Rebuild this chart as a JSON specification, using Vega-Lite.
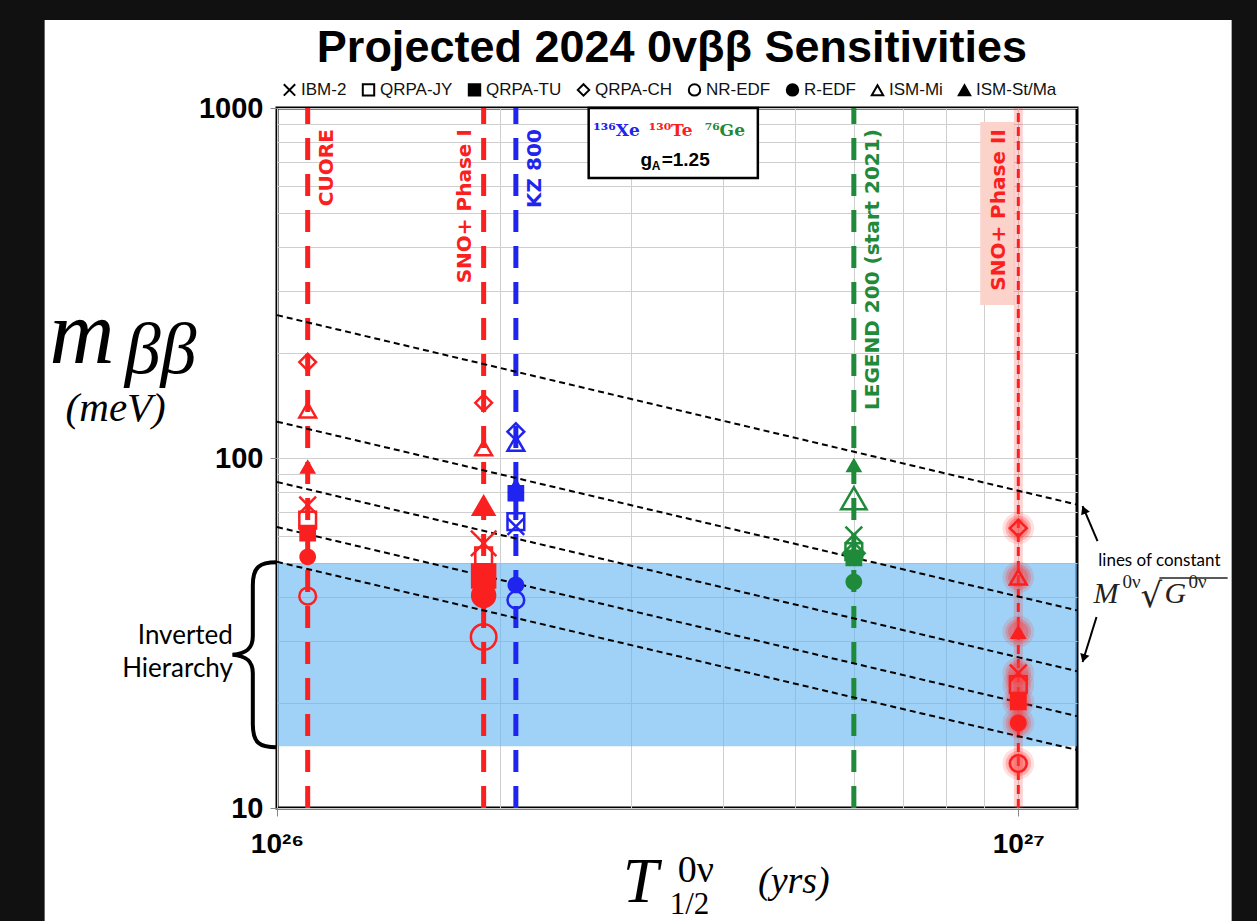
{
  "$schema": "https://vega.github.io/schema/vega-lite/v6.json",
  "width": 800,
  "height": 700,
  "autosize": {"type": "none"},
  "padding": {"left": 277, "top": 108, "right": 180, "bottom": 113},
  "background": "white",
  "title": {"text": "Projected 2024 0vββ Sensitivities", "font": "Liberation Sans", "fontSize": 45, "fontWeight": "bold", "color": "black", "anchor": "middle", "baseline": "alphabetic", "offset": -107, "dx": -5},
  "config": {
    "view": {"stroke": "black", "strokeWidth": 3},
    "text": {"color": "black"}
  },
  "datasets": {
    "points": [
      {"exp": "CUORE", "T": 1.1e26, "iso": "Te", "model": "QRPA-CH", "m": 188, "emph": "normal"},
      {"exp": "CUORE", "T": 1.1e26, "iso": "Te", "model": "ISM-Mi", "m": 137, "emph": "normal"},
      {"exp": "CUORE", "T": 1.1e26, "iso": "Te", "model": "ISM-St/Ma", "m": 94.5, "emph": "normal"},
      {"exp": "CUORE", "T": 1.1e26, "iso": "Te", "model": "IBM-2", "m": 73.4, "emph": "normal"},
      {"exp": "CUORE", "T": 1.1e26, "iso": "Te", "model": "QRPA-JY", "m": 66.5, "emph": "normal"},
      {"exp": "CUORE", "T": 1.1e26, "iso": "Te", "model": "QRPA-TU", "m": 61, "emph": "normal"},
      {"exp": "CUORE", "T": 1.1e26, "iso": "Te", "model": "R-EDF", "m": 52.2, "emph": "normal"},
      {"exp": "CUORE", "T": 1.1e26, "iso": "Te", "model": "NR-EDF", "m": 40.3, "emph": "normal"},
      {"exp": "SNO+ Phase I", "T": 1.9e26, "iso": "Te", "model": "QRPA-CH", "m": 143.8, "emph": "normal"},
      {"exp": "SNO+ Phase I", "T": 1.9e26, "iso": "Te", "model": "ISM-Mi", "m": 106.8, "emph": "normal"},
      {"exp": "SNO+ Phase I", "T": 1.9e26, "iso": "Te", "model": "ISM-St/Ma", "m": 73.4, "emph": "large"},
      {"exp": "SNO+ Phase I", "T": 1.9e26, "iso": "Te", "model": "IBM-2", "m": 57, "emph": "large"},
      {"exp": "SNO+ Phase I", "T": 1.9e26, "iso": "Te", "model": "QRPA-JY", "m": 52.5, "emph": "normal"},
      {"exp": "SNO+ Phase I", "T": 1.9e26, "iso": "Te", "model": "QRPA-TU", "m": 46, "emph": "large"},
      {"exp": "SNO+ Phase I", "T": 1.9e26, "iso": "Te", "model": "R-EDF", "m": 40.5, "emph": "large"},
      {"exp": "SNO+ Phase I", "T": 1.9e26, "iso": "Te", "model": "NR-EDF", "m": 30.8, "emph": "large"},
      {"exp": "KZ 800", "T": 2.1e26, "iso": "Xe", "model": "QRPA-CH", "m": 118.9, "emph": "normal"},
      {"exp": "KZ 800", "T": 2.1e26, "iso": "Xe", "model": "ISM-Mi", "m": 110, "emph": "normal"},
      {"exp": "KZ 800", "T": 2.1e26, "iso": "Xe", "model": "ISM-St/Ma", "m": 83.7, "emph": "normal"},
      {"exp": "KZ 800", "T": 2.1e26, "iso": "Xe", "model": "QRPA-TU", "m": 79.3, "emph": "normal"},
      {"exp": "KZ 800", "T": 2.1e26, "iso": "Xe", "model": "QRPA-JY", "m": 65.8, "emph": "normal"},
      {"exp": "KZ 800", "T": 2.1e26, "iso": "Xe", "model": "IBM-2", "m": 63.7, "emph": "normal"},
      {"exp": "KZ 800", "T": 2.1e26, "iso": "Xe", "model": "R-EDF", "m": 43.4, "emph": "normal"},
      {"exp": "KZ 800", "T": 2.1e26, "iso": "Xe", "model": "NR-EDF", "m": 39.3, "emph": "normal"},
      {"exp": "LEGEND 200", "T": 6e26, "iso": "Ge", "model": "ISM-St/Ma", "m": 95.5, "emph": "normal"},
      {"exp": "LEGEND 200", "T": 6e26, "iso": "Ge", "model": "ISM-Mi", "m": 76.7, "emph": "large"},
      {"exp": "LEGEND 200", "T": 6e26, "iso": "Ge", "model": "IBM-2", "m": 60.3, "emph": "normal"},
      {"exp": "LEGEND 200", "T": 6e26, "iso": "Ge", "model": "QRPA-CH", "m": 53.4, "emph": "medium"},
      {"exp": "LEGEND 200", "T": 6e26, "iso": "Ge", "model": "QRPA-JY", "m": 54, "emph": "normal"},
      {"exp": "LEGEND 200", "T": 6e26, "iso": "Ge", "model": "QRPA-TU", "m": 51.8, "emph": "normal"},
      {"exp": "LEGEND 200", "T": 6e26, "iso": "Ge", "model": "R-EDF", "m": 44.3, "emph": "normal"},
      {"exp": "SNO+ Phase II", "T": 1e27, "iso": "Te", "model": "QRPA-CH", "m": 63, "emph": "normal"},
      {"exp": "SNO+ Phase II", "T": 1e27, "iso": "Te", "model": "ISM-Mi", "m": 45.6, "emph": "normal"},
      {"exp": "SNO+ Phase II", "T": 1e27, "iso": "Te", "model": "ISM-St/Ma", "m": 31.9, "emph": "normal"},
      {"exp": "SNO+ Phase II", "T": 1e27, "iso": "Te", "model": "IBM-2", "m": 24.3, "emph": "normal"},
      {"exp": "SNO+ Phase II", "T": 1e27, "iso": "Te", "model": "QRPA-JY", "m": 22.5, "emph": "normal"},
      {"exp": "SNO+ Phase II", "T": 1e27, "iso": "Te", "model": "QRPA-TU", "m": 20.1, "emph": "normal"},
      {"exp": "SNO+ Phase II", "T": 1e27, "iso": "Te", "model": "R-EDF", "m": 17.5, "emph": "normal"},
      {"exp": "SNO+ Phase II", "T": 1e27, "iso": "Te", "model": "NR-EDF", "m": 13.4, "emph": "normal"}
    ],
    "exps": [
      {"exp": "CUORE", "label": "CUORE", "T": 1.1e26, "iso": "Te"},
      {"exp": "SNO+ Phase I", "label": "SNO+ Phase I", "T": 1.9e26, "iso": "Te"},
      {"exp": "KZ 800", "label": "KZ 800", "T": 2.1e26, "iso": "Xe"},
      {"exp": "LEGEND 200", "label": "LEGEND 200 (start 2021)", "T": 6e26, "iso": "Ge"},
      {"exp": "SNO+ Phase II", "label": "SNO+ Phase II", "T": 1e27, "iso": "Te"}
    ],
    "diag": [
      {"line": 1, "T": 1e26, "m": 256}, {"line": 1, "T": 1.2e27, "m": 73.6},
      {"line": 2, "T": 1e26, "m": 127}, {"line": 2, "T": 1.2e27, "m": 36.7},
      {"line": 3, "T": 1e26, "m": 85.4}, {"line": 3, "T": 1.2e27, "m": 24.6},
      {"line": 4, "T": 1e26, "m": 63.5}, {"line": 4, "T": 1.2e27, "m": 18.3},
      {"line": 5, "T": 1e26, "m": 50.5}, {"line": 5, "T": 1.2e27, "m": 14.65}
    ],
    "frame": [
      {"T": 3.846e25, "T2": 4.859e25, "m": 3.93, "m2": 2035},
      {"T": 1.94e27, "T2": 2.338e27, "m": 3.93, "m2": 2035},
      {"T": 3.846e25, "T2": 2.338e27, "m": 1784, "m2": 2035}
    ],
    "band": [{"T": 1e26, "T2": 1.2e27, "m": 15, "m2": 50}],
    "isobox": [{"T": 2.633e26, "T2": 4.453e26, "m": 631, "m2": 1000}],
    "pinkbox": [{"T": 8.885e26, "T2": 9.876e26, "m": 273.6, "m2": 912}],
    "arrows": [
      {"arrow": "up", "T": 1.279e27, "T2": 1.221e27, "m": 57.9, "m2": 72.9},
      {"arrow": "down", "T": 1.275e27, "T2": 1.221e27, "m": 35.13, "m2": 26.13}
    ],
    "heads": [
      {"arrow": "up", "T": 1.226e27, "m": 71.15},
      {"arrow": "down", "T": 1.225e27, "m": 26.79}
    ],
    "overline": [{"T": 1.55e27, "T2": 1.916e27, "m": 45.4}],
    "annot": [
      {"style": "ym", "text": "m", "T": 4.934e25, "m": 186.8},
      {"style": "ybb", "text": "ββ", "T": 6.232e25, "m": 175},
      {"style": "ymev", "text": "(meV)", "T": 6.059e25, "m": 127.6},
      {"style": "xT", "text": "T", "T": 2.926e26, "m": 5.386},
      {"style": "xsup", "text": "0ν", "T": 3.472e26, "m": 6.146},
      {"style": "xsub", "text": "1/2", "T": 3.386e26, "m": 4.98},
      {"style": "xyrs", "text": "(yrs)", "T": 4.98e26, "m": 5.716},
      {"style": "loc", "text": "lines of constant", "T": 1.55e27, "m": 49.14},
      {"style": "MG", "text": "M", "T": 1.263e27, "m": 38.52},
      {"style": "MG", "text": "G", "T": 1.575e27, "m": 38.52},
      {"style": "MGsup", "text": "0ν", "T": 1.382e27, "m": 42.52},
      {"style": "MGsup", "text": "0ν", "T": 1.697e27, "m": 42.52},
      {"style": "sqrt", "text": "√", "T": 1.462e27, "m": 37.52},
      {"style": "IH", "text": "Inverted", "T": 8.72e25, "m": 29.4},
      {"style": "IH", "text": "Hierarchy", "T": 8.72e25, "m": 23.67},
      {"style": "iso", "text": "¹³⁶Xe", "iso": "Xe", "T": 2.871e26, "m": 831.8},
      {"style": "iso", "text": "¹³⁰Te", "iso": "Te", "T": 3.397e26, "m": 831.8},
      {"style": "iso", "text": "⁷⁶Ge", "iso": "Ge", "T": 4.019e26, "m": 831.8},
      {"style": "ga", "text": "g", "T": 3.094e26, "m": 683},
      {"style": "ga", "text": "=1.25", "T": 3.303e26, "m": 683},
      {"style": "gasub", "text": "A", "T": 3.202e26, "m": 667}
    ],
    "brace": [{"T": 9.33e25, "m": 27.4}]
  },
  "layer": [
    {
      "data": {"name": "band"},
      "mark": {"type": "rect", "color": "#5fb4f0", "opacity": 0.6},
      "encoding": {
        "x": {
          "field": "T", "type": "quantitative",
          "scale": {"type": "log", "domain": [1e26, 1.2e27], "nice": false},
          "axis": {
            "title": null,
            "values": [1e26, 2e26, 3e26, 4e26, 5e26, 6e26, 7e26, 8e26, 9e26, 1e27],
            "grid": true, "gridColor": "#cfcfcf", "gridWidth": 1,
            "domain": false,
            "tickColor": "#888888", "tickSize": 8, "tickWidth": 1,
            "tickOpacity": {"condition": {"test": "datum.value < 1.05e26 || datum.value > 9.5e26", "value": 1}, "value": 0},
            "labelExpr": "datum.value < 1.05e26 ? '10²⁶' : (datum.value > 9.5e26 ? '10²⁷' : '')",
            "labelFont": "Liberation Sans", "labelFontSize": 28, "labelFontWeight": "bold", "labelColor": "black",
            "labelPadding": 14, "labelOverlap": false, "labelFlush": false
          }
        },
        "y": {
          "field": "m", "type": "quantitative",
          "scale": {"type": "log", "domain": [10, 1000], "nice": false},
          "axis": {
            "title": null,
            "values": [10, 20, 30, 40, 50, 60, 70, 80, 90, 100, 200, 300, 400, 500, 600, 700, 800, 900, 1000],
            "grid": true, "gridColor": "#cfcfcf", "gridWidth": 1,
            "domain": false,
            "tickColor": "#888888", "tickSize": 7, "tickWidth": 1,
            "tickOpacity": {"condition": {"test": "datum.value == 10 || datum.value == 100 || datum.value == 1000", "value": 1}, "value": 0},
            "labelExpr": "(datum.value == 10 || datum.value == 100 || datum.value == 1000) ? ('' + datum.value) : ''",
            "labelFont": "Liberation Sans", "labelFontSize": 29, "labelFontWeight": "bold", "labelColor": "black",
            "labelPadding": 7, "labelOverlap": false, "labelFlush": false
          }
        },
        "x2": {"field": "T2"}, "y2": {"field": "m2"}
      }
    },
    {
      "data": {"name": "isobox"},
      "mark": {"type": "rect", "fill": "white", "stroke": "black", "strokeWidth": 2.5},
      "encoding": {
        "x": {"field": "T", "type": "quantitative", "scale": {"type": "log", "domain": [1e26, 1.2e27], "nice": false}},
        "y": {"field": "m", "type": "quantitative", "scale": {"type": "log", "domain": [10, 1000], "nice": false}},
        "x2": {"field": "T2"}, "y2": {"field": "m2"}
      }
    },
    {
      "data": {"name": "pinkbox"},
      "mark": {"type": "rect", "color": "#fbd3cb", "opacity": 1},
      "encoding": {
        "x": {"field": "T", "type": "quantitative", "scale": {"type": "log", "domain": [1e26, 1.2e27], "nice": false}},
        "y": {"field": "m", "type": "quantitative", "scale": {"type": "log", "domain": [10, 1000], "nice": false}},
        "x2": {"field": "T2"}, "y2": {"field": "m2"}
      }
    },
    {
      "data": {"name": "exps"},
      "transform": [{"filter": "datum.exp == 'SNO+ Phase II'"}],
      "mark": {"type": "rule", "color": "#ff3030", "strokeWidth": 9, "opacity": 0.22},
      "encoding": {
        "x": {"field": "T", "type": "quantitative", "scale": {"type": "log", "domain": [1e26, 1.2e27], "nice": false}},
        "y": {"datum": 10, "type": "quantitative", "scale": {"type": "log", "domain": [10, 1000], "nice": false}},
        "y2": {"datum": 1000}
      }
    },
    {
      "data": {"name": "exps"},
      "transform": [{"filter": "datum.exp != 'SNO+ Phase II'"}],
      "mark": {"type": "rule", "strokeWidth": 5, "strokeDash": [22, 14]},
      "encoding": {
        "x": {"field": "T", "type": "quantitative", "scale": {"type": "log", "domain": [1e26, 1.2e27], "nice": false}},
        "y": {"datum": 10, "type": "quantitative", "scale": {"type": "log", "domain": [10, 1000], "nice": false}},
        "y2": {"datum": 1000},
        "color": {"field": "iso", "type": "nominal", "scale": {"domain": ["Xe", "Te", "Ge"], "range": ["#1f24ee", "#fb2020", "#1e8a3a"]}, "legend": null}
      }
    },
    {
      "data": {"name": "exps"},
      "transform": [{"filter": "datum.exp == 'SNO+ Phase II'"}],
      "mark": {"type": "rule", "strokeWidth": 3, "strokeDash": [9, 5]},
      "encoding": {
        "x": {"field": "T", "type": "quantitative", "scale": {"type": "log", "domain": [1e26, 1.2e27], "nice": false}},
        "y": {"datum": 10, "type": "quantitative", "scale": {"type": "log", "domain": [10, 1000], "nice": false}},
        "y2": {"datum": 1000},
        "color": {"field": "iso", "type": "nominal", "scale": {"domain": ["Xe", "Te", "Ge"], "range": ["#1f24ee", "#fb2020", "#1e8a3a"]}, "legend": null}
      }
    },
    {
      "data": {"name": "diag"},
      "mark": {"type": "line", "color": "black", "strokeWidth": 2, "strokeDash": [6, 4]},
      "encoding": {
        "x": {"field": "T", "type": "quantitative", "scale": {"type": "log", "domain": [1e26, 1.2e27], "nice": false}},
        "y": {"field": "m", "type": "quantitative", "scale": {"type": "log", "domain": [10, 1000], "nice": false}},
        "detail": {"field": "line", "type": "nominal"}
      }
    },
    {
      "data": {"name": "points"},
      "transform": [{"filter": "datum.exp == 'SNO+ Phase II'"}],
      "mark": {"type": "point", "shape": "circle", "filled": true, "color": "#ff3a3a", "opacity": 0.16, "size": 1000},
      "encoding": {
        "x": {"field": "T", "type": "quantitative", "scale": {"type": "log", "domain": [1e26, 1.2e27], "nice": false}},
        "y": {"field": "m", "type": "quantitative", "scale": {"type": "log", "domain": [10, 1000], "nice": false}}
      }
    },
    {
      "data": {"name": "points"},
      "transform": [{"filter": "datum.exp == 'SNO+ Phase II'"}],
      "mark": {"type": "point", "shape": "circle", "filled": true, "color": "#ff3a3a", "opacity": 0.26, "size": 650},
      "encoding": {
        "x": {"field": "T", "type": "quantitative", "scale": {"type": "log", "domain": [1e26, 1.2e27], "nice": false}},
        "y": {"field": "m", "type": "quantitative", "scale": {"type": "log", "domain": [10, 1000], "nice": false}}
      }
    },
    {
      "data": {"name": "points"},
      "transform": [{"filter": "datum.exp == 'SNO+ Phase II'"}],
      "mark": {"type": "point", "shape": "circle", "filled": true, "color": "#ff3a3a", "opacity": 0.34, "size": 420},
      "encoding": {
        "x": {"field": "T", "type": "quantitative", "scale": {"type": "log", "domain": [1e26, 1.2e27], "nice": false}},
        "y": {"field": "m", "type": "quantitative", "scale": {"type": "log", "domain": [10, 1000], "nice": false}}
      }
    },
    {
      "data": {"name": "points"},
      "transform": [{"filter": "indexof(['QRPA-TU','R-EDF','ISM-St/Ma'], datum.model) < 0"}],
      "mark": {"type": "point", "filled": false, "strokeWidth": 2.5, "opacity": 1},
      "encoding": {
        "x": {"field": "T", "type": "quantitative", "scale": {"type": "log", "domain": [1e26, 1.2e27], "nice": false}},
        "y": {"field": "m", "type": "quantitative", "scale": {"type": "log", "domain": [10, 1000], "nice": false}},
        "shape": {
          "field": "model", "type": "nominal",
          "scale": {
            "domain": ["IBM-2", "QRPA-JY", "QRPA-TU", "QRPA-CH", "NR-EDF", "R-EDF", "ISM-Mi", "ISM-St/Ma"],
            "range": [
              "M-1,-1L1,1M-1,1L1,-1",
              "square",
              "M-1,-1L1,-1L1,1L-1,1Z M-1,-0.7L1,-0.7M-1,-0.4L1,-0.4M-1,-0.1L1,-0.1M-1,0.2L1,0.2M-1,0.5L1,0.5M-1,0.8L1,0.8",
              "diamond",
              "circle",
              "M-1,0A1,1,0,1,1,1,0A1,1,0,1,1,-1,0Z M-0.66,-0.75L0.66,-0.75M-0.89,-0.45L0.89,-0.45M-0.99,-0.15L0.99,-0.15M-0.99,0.15L0.99,0.15M-0.89,0.45L0.89,0.45M-0.66,0.75L0.66,0.75",
              "triangle-up",
              "M0,-0.866L-1,0.866L1,0.866Z M-0.21,-0.5L0.21,-0.5M-0.38,-0.2L0.38,-0.2M-0.56,0.1L0.56,0.1M-0.73,0.4L0.73,0.4M-0.9,0.7L0.9,0.7"
            ]
          },
          "legend": {
            "title": null, "orient": "none", "legendX": 4, "legendY": -27, "direction": "horizontal",
            "labelFont": "Liberation Sans", "labelFontSize": 17, "labelColor": "#111111",
            "symbolSize": 130, "symbolStrokeWidth": 2, "symbolStrokeColor": "black", "symbolFillColor": "transparent", "symbolOpacity": 1,
            "labelOffset": 3, "columnPadding": 11
          }
        },
        "color": {"field": "iso", "type": "nominal", "scale": {"domain": ["Xe", "Te", "Ge"], "range": ["#1f24ee", "#fb2020", "#1e8a3a"]}, "legend": null},
        "size": {"field": "emph", "type": "ordinal", "scale": {"domain": ["normal", "medium", "large"], "range": [280, 650, 1150]}, "legend": null}
      }
    },
    {
      "data": {"name": "points"},
      "transform": [{"filter": "indexof(['QRPA-TU','R-EDF','ISM-St/Ma'], datum.model) >= 0"}],
      "mark": {"type": "point", "filled": true, "opacity": 1},
      "encoding": {
        "x": {"field": "T", "type": "quantitative", "scale": {"type": "log", "domain": [1e26, 1.2e27], "nice": false}},
        "y": {"field": "m", "type": "quantitative", "scale": {"type": "log", "domain": [10, 1000], "nice": false}},
        "shape": {"field": "model", "type": "nominal", "legend": null},
        "color": {"field": "iso", "type": "nominal", "scale": {"domain": ["Xe", "Te", "Ge"], "range": ["#1f24ee", "#fb2020", "#1e8a3a"]}, "legend": null},
        "size": {"field": "emph", "type": "ordinal", "scale": {"domain": ["normal", "medium", "large"], "range": [280, 650, 1150]}, "legend": null}
      }
    },
    {
      "data": {"name": "exps"},
      "transform": [{"filter": "indexof(['SNO+ Phase I','SNO+ Phase II'], datum.exp) < 0"}],
      "mark": {"type": "text", "angle": 270, "align": "right", "baseline": "middle", "dy": 19, "font": "DejaVu Sans", "fontSize": 20, "fontWeight": "bold"},
      "encoding": {
        "x": {"field": "T", "type": "quantitative", "scale": {"type": "log", "domain": [1e26, 1.2e27], "nice": false}},
        "y": {"datum": 870, "type": "quantitative", "scale": {"type": "log", "domain": [10, 1000], "nice": false}},
        "text": {"field": "label"},
        "color": {"field": "iso", "type": "nominal", "scale": {"domain": ["Xe", "Te", "Ge"], "range": ["#1f24ee", "#fb2020", "#1e8a3a"]}, "legend": null}
      }
    },
    {
      "data": {"name": "exps"},
      "transform": [{"filter": "indexof(['SNO+ Phase I','SNO+ Phase II'], datum.exp) >= 0"}],
      "mark": {"type": "text", "angle": 270, "align": "right", "baseline": "middle", "dy": -19, "font": "DejaVu Sans", "fontSize": 20, "fontWeight": "bold"},
      "encoding": {
        "x": {"field": "T", "type": "quantitative", "scale": {"type": "log", "domain": [1e26, 1.2e27], "nice": false}},
        "y": {"datum": 870, "type": "quantitative", "scale": {"type": "log", "domain": [10, 1000], "nice": false}},
        "text": {"field": "label"},
        "color": {"field": "iso", "type": "nominal", "scale": {"domain": ["Xe", "Te", "Ge"], "range": ["#1f24ee", "#fb2020", "#1e8a3a"]}, "legend": null}
      }
    },
    {
      "data": {"name": "arrows"},
      "mark": {"type": "rule", "color": "black", "strokeWidth": 2},
      "encoding": {
        "x": {"field": "T", "type": "quantitative", "scale": {"type": "log", "domain": [1e26, 1.2e27], "nice": false}},
        "y": {"field": "m", "type": "quantitative", "scale": {"type": "log", "domain": [10, 1000], "nice": false}},
        "x2": {"field": "T2"}, "y2": {"field": "m2"}
      }
    },
    {
      "data": {"name": "heads"},
      "transform": [{"filter": "datum.arrow == 'up'"}],
      "mark": {"type": "point", "shape": "triangle-up", "filled": true, "color": "black", "opacity": 1, "size": 90, "angle": -23},
      "encoding": {
        "x": {"field": "T", "type": "quantitative", "scale": {"type": "log", "domain": [1e26, 1.2e27], "nice": false}},
        "y": {"field": "m", "type": "quantitative", "scale": {"type": "log", "domain": [10, 1000], "nice": false}}
      }
    },
    {
      "data": {"name": "heads"},
      "transform": [{"filter": "datum.arrow == 'down'"}],
      "mark": {"type": "point", "shape": "triangle-up", "filled": true, "color": "black", "opacity": 1, "size": 90, "angle": 197},
      "encoding": {
        "x": {"field": "T", "type": "quantitative", "scale": {"type": "log", "domain": [1e26, 1.2e27], "nice": false}},
        "y": {"field": "m", "type": "quantitative", "scale": {"type": "log", "domain": [10, 1000], "nice": false}}
      }
    },
    {
      "data": {"name": "overline"},
      "mark": {"type": "rule", "color": "#222222", "strokeWidth": 1.5},
      "encoding": {
        "x": {"field": "T", "type": "quantitative", "scale": {"type": "log", "domain": [1e26, 1.2e27], "nice": false}},
        "y": {"field": "m", "type": "quantitative", "scale": {"type": "log", "domain": [10, 1000], "nice": false}},
        "x2": {"field": "T2"}
      }
    },
    {
      "data": {"name": "brace"},
      "mark": {"type": "point", "shape": "M0.24,-1C0.05,-1,-0.02,-0.95,-0.02,-0.75L-0.02,-0.2C-0.02,-0.06,-0.1,-0.01,-0.24,0C-0.1,0.01,-0.02,0.06,-0.02,0.2L-0.02,0.75C-0.02,0.95,0.05,1,0.24,1", "filled": false, "color": "black", "strokeWidth": 4, "opacity": 1, "size": 34225},
      "encoding": {
        "x": {"field": "T", "type": "quantitative", "scale": {"type": "log", "domain": [1e26, 1.2e27], "nice": false}},
        "y": {"field": "m", "type": "quantitative", "scale": {"type": "log", "domain": [10, 1000], "nice": false}}
      }
    },
    {
      "data": {"name": "annot"},
      "transform": [{"filter": "datum.style == 'ym'"}],
      "mark": {"type": "text", "font": "Liberation Serif", "fontStyle": "italic", "fontSize": 90, "align": "left", "baseline": "alphabetic"},
      "encoding": {
        "x": {"field": "T", "type": "quantitative", "scale": {"type": "log", "domain": [1e26, 1.2e27], "nice": false}},
        "y": {"field": "m", "type": "quantitative", "scale": {"type": "log", "domain": [10, 1000], "nice": false}},
        "text": {"field": "text"}
      }
    },
    {
      "data": {"name": "annot"},
      "transform": [{"filter": "datum.style == 'ybb'"}],
      "mark": {"type": "text", "font": "Liberation Serif", "fontStyle": "italic", "fontSize": 72, "align": "left", "baseline": "alphabetic"},
      "encoding": {
        "x": {"field": "T", "type": "quantitative", "scale": {"type": "log", "domain": [1e26, 1.2e27], "nice": false}},
        "y": {"field": "m", "type": "quantitative", "scale": {"type": "log", "domain": [10, 1000], "nice": false}},
        "text": {"field": "text"}
      }
    },
    {
      "data": {"name": "annot"},
      "transform": [{"filter": "datum.style == 'ymev'"}],
      "mark": {"type": "text", "font": "Liberation Serif", "fontStyle": "italic", "fontSize": 41, "align": "center", "baseline": "alphabetic"},
      "encoding": {
        "x": {"field": "T", "type": "quantitative", "scale": {"type": "log", "domain": [1e26, 1.2e27], "nice": false}},
        "y": {"field": "m", "type": "quantitative", "scale": {"type": "log", "domain": [10, 1000], "nice": false}},
        "text": {"field": "text"}
      }
    },
    {
      "data": {"name": "annot"},
      "transform": [{"filter": "datum.style == 'xT'"}],
      "mark": {"type": "text", "font": "Liberation Serif", "fontStyle": "italic", "fontSize": 64, "align": "left", "baseline": "alphabetic"},
      "encoding": {
        "x": {"field": "T", "type": "quantitative", "scale": {"type": "log", "domain": [1e26, 1.2e27], "nice": false}},
        "y": {"field": "m", "type": "quantitative", "scale": {"type": "log", "domain": [10, 1000], "nice": false}},
        "text": {"field": "text"}
      }
    },
    {
      "data": {"name": "annot"},
      "transform": [{"filter": "datum.style == 'xsup'"}],
      "mark": {"type": "text", "font": "Liberation Serif", "fontSize": 38, "align": "left", "baseline": "alphabetic"},
      "encoding": {
        "x": {"field": "T", "type": "quantitative", "scale": {"type": "log", "domain": [1e26, 1.2e27], "nice": false}},
        "y": {"field": "m", "type": "quantitative", "scale": {"type": "log", "domain": [10, 1000], "nice": false}},
        "text": {"field": "text"}
      }
    },
    {
      "data": {"name": "annot"},
      "transform": [{"filter": "datum.style == 'xsub'"}],
      "mark": {"type": "text", "font": "Liberation Serif", "fontSize": 31, "align": "left", "baseline": "alphabetic"},
      "encoding": {
        "x": {"field": "T", "type": "quantitative", "scale": {"type": "log", "domain": [1e26, 1.2e27], "nice": false}},
        "y": {"field": "m", "type": "quantitative", "scale": {"type": "log", "domain": [10, 1000], "nice": false}},
        "text": {"field": "text"}
      }
    },
    {
      "data": {"name": "annot"},
      "transform": [{"filter": "datum.style == 'xyrs'"}],
      "mark": {"type": "text", "font": "Liberation Serif", "fontStyle": "italic", "fontSize": 38, "align": "center", "baseline": "alphabetic"},
      "encoding": {
        "x": {"field": "T", "type": "quantitative", "scale": {"type": "log", "domain": [1e26, 1.2e27], "nice": false}},
        "y": {"field": "m", "type": "quantitative", "scale": {"type": "log", "domain": [10, 1000], "nice": false}},
        "text": {"field": "text"}
      }
    },
    {
      "data": {"name": "annot"},
      "transform": [{"filter": "datum.style == 'loc'"}],
      "mark": {"type": "text", "font": "Lato", "fontSize": 17, "align": "center", "baseline": "alphabetic"},
      "encoding": {
        "x": {"field": "T", "type": "quantitative", "scale": {"type": "log", "domain": [1e26, 1.2e27], "nice": false}},
        "y": {"field": "m", "type": "quantitative", "scale": {"type": "log", "domain": [10, 1000], "nice": false}},
        "text": {"field": "text"}
      }
    },
    {
      "data": {"name": "annot"},
      "transform": [{"filter": "datum.style == 'MG'"}],
      "mark": {"type": "text", "font": "Liberation Serif", "fontStyle": "italic", "fontSize": 30, "align": "left", "baseline": "alphabetic", "color": "#222222"},
      "encoding": {
        "x": {"field": "T", "type": "quantitative", "scale": {"type": "log", "domain": [1e26, 1.2e27], "nice": false}},
        "y": {"field": "m", "type": "quantitative", "scale": {"type": "log", "domain": [10, 1000], "nice": false}},
        "text": {"field": "text"}
      }
    },
    {
      "data": {"name": "annot"},
      "transform": [{"filter": "datum.style == 'MGsup'"}],
      "mark": {"type": "text", "font": "Liberation Serif", "fontSize": 19, "align": "left", "baseline": "alphabetic", "color": "#222222"},
      "encoding": {
        "x": {"field": "T", "type": "quantitative", "scale": {"type": "log", "domain": [1e26, 1.2e27], "nice": false}},
        "y": {"field": "m", "type": "quantitative", "scale": {"type": "log", "domain": [10, 1000], "nice": false}},
        "text": {"field": "text"}
      }
    },
    {
      "data": {"name": "annot"},
      "transform": [{"filter": "datum.style == 'sqrt'"}],
      "mark": {"type": "text", "font": "DejaVu Serif", "fontSize": 34, "align": "left", "baseline": "alphabetic", "color": "#222222"},
      "encoding": {
        "x": {"field": "T", "type": "quantitative", "scale": {"type": "log", "domain": [1e26, 1.2e27], "nice": false}},
        "y": {"field": "m", "type": "quantitative", "scale": {"type": "log", "domain": [10, 1000], "nice": false}},
        "text": {"field": "text"}
      }
    },
    {
      "data": {"name": "annot"},
      "transform": [{"filter": "datum.style == 'IH'"}],
      "mark": {"type": "text", "font": "Lato", "fontSize": 26, "align": "right", "baseline": "alphabetic"},
      "encoding": {
        "x": {"field": "T", "type": "quantitative", "scale": {"type": "log", "domain": [1e26, 1.2e27], "nice": false}},
        "y": {"field": "m", "type": "quantitative", "scale": {"type": "log", "domain": [10, 1000], "nice": false}},
        "text": {"field": "text"}
      }
    },
    {
      "data": {"name": "annot"},
      "transform": [{"filter": "datum.style == 'iso'"}],
      "mark": {"type": "text", "font": "DejaVu Serif", "fontWeight": "bold", "fontSize": 17, "align": "center", "baseline": "alphabetic"},
      "encoding": {
        "x": {"field": "T", "type": "quantitative", "scale": {"type": "log", "domain": [1e26, 1.2e27], "nice": false}},
        "y": {"field": "m", "type": "quantitative", "scale": {"type": "log", "domain": [10, 1000], "nice": false}},
        "text": {"field": "text"},
        "color": {"field": "iso", "type": "nominal", "scale": {"domain": ["Xe", "Te", "Ge"], "range": ["#1f24ee", "#fb2020", "#1e8a3a"]}, "legend": null}
      }
    },
    {
      "data": {"name": "annot"},
      "transform": [{"filter": "datum.style == 'ga'"}],
      "mark": {"type": "text", "font": "Liberation Sans", "fontWeight": "bold", "fontSize": 19, "align": "left", "baseline": "alphabetic"},
      "encoding": {
        "x": {"field": "T", "type": "quantitative", "scale": {"type": "log", "domain": [1e26, 1.2e27], "nice": false}},
        "y": {"field": "m", "type": "quantitative", "scale": {"type": "log", "domain": [10, 1000], "nice": false}},
        "text": {"field": "text"}
      }
    },
    {
      "data": {"name": "annot"},
      "transform": [{"filter": "datum.style == 'gasub'"}],
      "mark": {"type": "text", "font": "Liberation Sans", "fontWeight": "bold", "fontSize": 12, "align": "left", "baseline": "alphabetic"},
      "encoding": {
        "x": {"field": "T", "type": "quantitative", "scale": {"type": "log", "domain": [1e26, 1.2e27], "nice": false}},
        "y": {"field": "m", "type": "quantitative", "scale": {"type": "log", "domain": [10, 1000], "nice": false}},
        "text": {"field": "text"}
      }
    },
    {
      "data": {"name": "frame"},
      "mark": {"type": "rect", "color": "#111111", "opacity": 1},
      "encoding": {
        "x": {"field": "T", "type": "quantitative", "scale": {"type": "log", "domain": [1e26, 1.2e27], "nice": false}},
        "y": {"field": "m", "type": "quantitative", "scale": {"type": "log", "domain": [10, 1000], "nice": false}},
        "x2": {"field": "T2"}, "y2": {"field": "m2"}
      }
    }
  ]
}
